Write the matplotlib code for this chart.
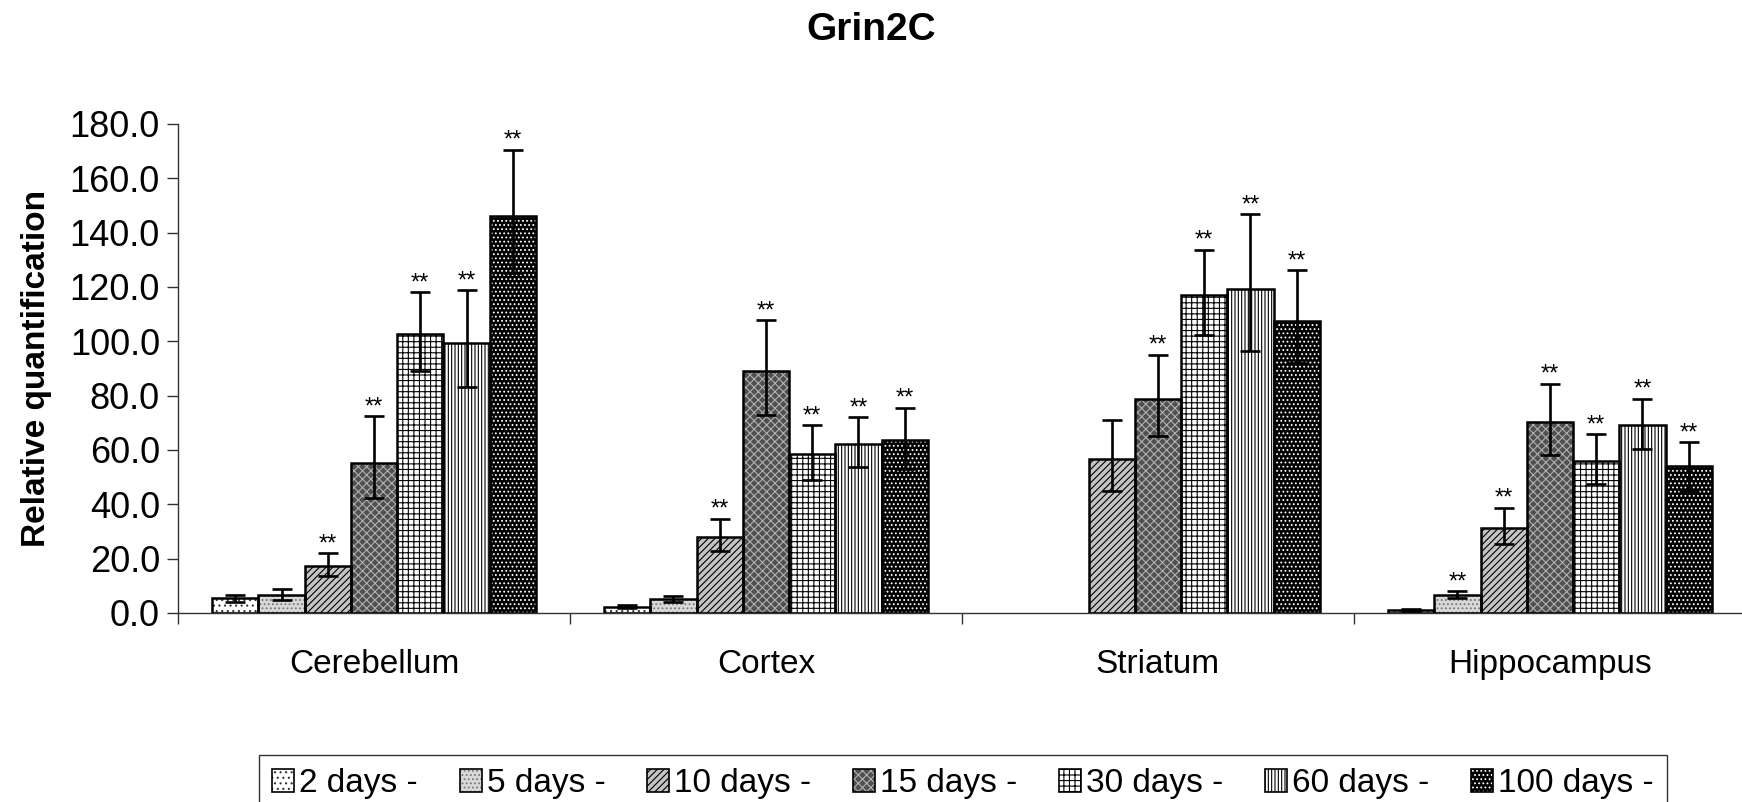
import numpy as np
import matplotlib
matplotlib.use("Agg")
import matplotlib.pyplot as plt
from matplotlib.patches import Patch
from matplotlib.ticker import FixedLocator, FormatStrFormatter

plt.rcParams['font.family'] = ['Liberation Sans', 'DejaVu Sans']
plt.rcParams['hatch.linewidth'] = 0.8

# Brain regions and time points
regions = ['Cerebellum', 'Cortex', 'Striatum', 'Hippocampus']
days = ['2 days -', '5 days -', '10 days -', '15 days -', '30 days -', '60 days -', '100 days -']

# Relative quantification per region (one value per time point)
cerebellum = [5.4, 6.7, 17.4, 55.3, 102.7, 99.3, 146.2]
cortex = [2.3, 5.2, 28.1, 89.1, 58.4, 62.3, 63.6]
striatum = [np.nan, np.nan, 56.7, 78.8, 117.0, 119.3, 107.6]
hippocampus = [1.1, 6.5, 31.4, 70.4, 56.1, 69.2, 54.0]

# Upper and lower limits of the error bars
cerebellum_hi = [6.7, 8.8, 22.1, 72.4, 118.2, 118.8, 170.6]
cerebellum_lo = [4.0, 4.9, 13.5, 42.2, 89.2, 83.0, 125.0]
cortex_hi = [2.9, 6.3, 34.7, 107.9, 69.2, 72.0, 75.6]
cortex_lo = [1.7, 4.1, 22.7, 72.9, 48.8, 53.6, 53.0]
striatum_hi = [np.nan, np.nan, 71.1, 95.1, 133.7, 146.9, 126.2]
striatum_lo = [np.nan, np.nan, 45.0, 65.2, 102.4, 96.5, 92.0]
hippocampus_hi = [1.4, 8.0, 38.8, 84.4, 65.9, 78.9, 62.8]
hippocampus_lo = [0.8, 5.4, 25.3, 58.3, 47.4, 60.5, 45.0]

# Significance marks
cerebellum_sig = ['', '', '**', '**', '**', '**', '**']
cortex_sig = ['', '', '**', '**', '**', '**', '**']
striatum_sig = ['', '', '', '**', '**', '**', '**']
hippocampus_sig = ['', '**', '**', '**', '**', '**', '**']

vals = np.array([cerebellum, cortex, striatum, hippocampus]).T
hi = np.array([cerebellum_hi, cortex_hi, striatum_hi, hippocampus_hi]).T
lo = np.array([cerebellum_lo, cortex_lo, striatum_lo, hippocampus_lo]).T
sig = np.array([cerebellum_sig, cortex_sig, striatum_sig, hippocampus_sig]).T

# face colour, hatch, hatch colour for each time point
styles = [
    ('white', '...', '#333333'),
    ('#d8d8d8', '....', '#777777'),
    ('#c4c4c4', '/////', 'black'),
    ('#505050', 'xxxx', '#b0b0b0'),
    ('white', '+++', 'black'),
    ('white', '|||||', 'black'),
    ('black', '....', 'white'),
]

fig = plt.figure(figsize=(17.42, 8.02), dpi=100)
ax = fig.add_axes([0.1022, 0.2357, 0.8978, 0.6097])

x = np.arange(len(regions))
w = 0.118
handles = []
for i, (fc, hatch, hc) in enumerate(styles):
    xi = x + (i - 3) * w
    ok = ~np.isnan(vals[i])
    ax.bar(xi[ok], vals[i][ok], w, color=fc, edgecolor=hc, hatch=hatch, linewidth=0, zorder=2)
    ax.bar(xi[ok], vals[i][ok], w, fill=False, edgecolor='black', linewidth=1.8, zorder=3)
    yerr = np.vstack([vals[i][ok] - lo[i][ok], hi[i][ok] - vals[i][ok]])
    ax.errorbar(xi[ok], vals[i][ok], yerr=yerr, fmt='none', ecolor='black',
                elinewidth=1.9, capsize=7, capthick=1.9, zorder=4)
    for xv, top, s in zip(xi[ok], hi[i][ok], sig[i][ok]):
        if s:
            ax.annotate(s, (xv, top), xytext=(0, 2), textcoords='offset points',
                        ha='center', va='baseline', fontsize=17)
    handles.append((Patch(facecolor=fc, edgecolor=hc, hatch=hatch, linewidth=0),
                    Patch(fill=False, edgecolor='black', linewidth=1.2)))

ax.set_xlim(-0.5, 3.49)
ax.set_ylim(0, 180)
ax.set_yticks(np.arange(0, 181, 20))
ax.yaxis.set_major_formatter(FormatStrFormatter('%.1f'))
ax.tick_params(axis='y', direction='out', length=8, width=1, labelsize=26, pad=5, color='#333333')

ax.xaxis.set_major_locator(FixedLocator([-0.5, 0.5, 1.5, 2.5]))
ax.xaxis.set_minor_locator(FixedLocator(x))
ax.set_xticklabels([], minor=False)
ax.set_xticklabels(regions, minor=True)
ax.tick_params(axis='x', which='major', direction='out', length=8, width=1, color='#333333')
ax.tick_params(axis='x', which='minor', length=0, labelsize=24, pad=26)

for side in ['top', 'right']:
    ax.spines[side].set_visible(False)
for side in ['left', 'bottom']:
    ax.spines[side].set_color('#333333')
    ax.spines[side].set_linewidth(1.0)

fig.text(0.5, 1 - 40 / 802, 'Grin2C', ha='center', va='baseline', fontsize=28, fontweight='bold')
fig.text(36 / 1742, 0.5405, 'Relative quantification', rotation=90, ha='center', va='center',
         fontsize=24, fontweight='bold')

leg = fig.legend(handles, days, ncol=7, loc='upper left', bbox_to_anchor=(259 / 1742, 1 - 755 / 802),
                 fontsize=24, frameon=True, fancybox=False, edgecolor='black', borderaxespad=0,
                 handlelength=0.66, handleheight=0.66, handletextpad=0.15, columnspacing=1.25,
                 borderpad=0.4)
leg.get_frame().set_linewidth(1.0)

fig.savefig('out.png', dpi=100)
